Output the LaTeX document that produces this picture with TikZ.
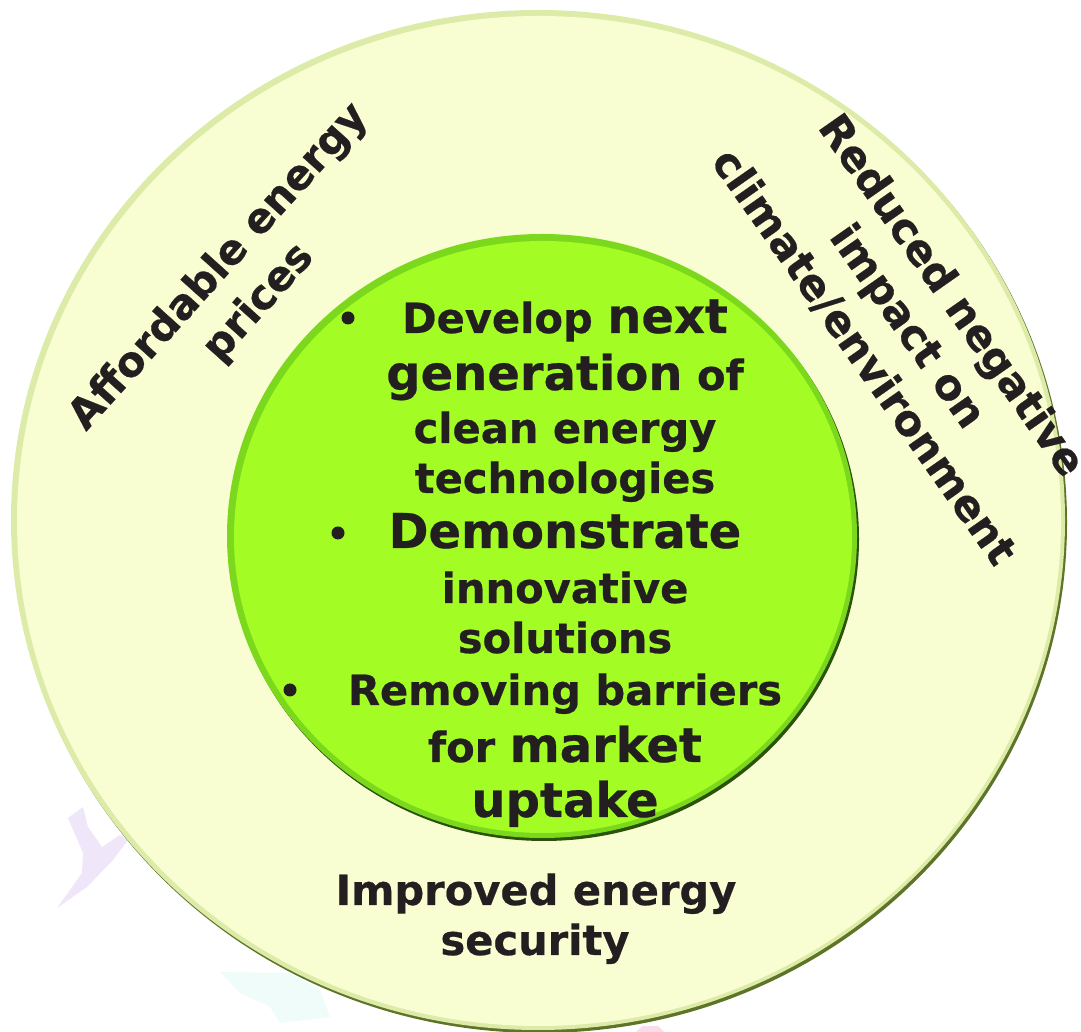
\documentclass[tikz,border=0pt]{standalone}
\usepackage{fontspec}
\setmainfont{DejaVu Sans}
\newfontfamily\heavyfont{DejaVu Sans Bold}[FakeBold=0.5]
\definecolor{ink}{HTML}{231F20}
\definecolor{paleyel}{HTML}{F8FDD2}
\definecolor{palerim}{HTML}{DDEBA8}
\definecolor{paleshadow}{HTML}{5E7428}
\definecolor{lime}{HTML}{A3FC24}
\definecolor{limerim}{HTML}{7CD81C}
\definecolor{limeshadow}{HTML}{2A5208}
\definecolor{wmpurple}{HTML}{EFE6FA}
\definecolor{wmcyan}{HTML}{F0FCFA}
\definecolor{wmpink}{HTML}{F9DDEA}
\newcommand\fsS{\fontsize{20.8}{26}\selectfont}
\newcommand\fsL{\fontsize{24}{28}\selectfont}
\begin{document}
\begin{tikzpicture}[x=0.5pt,y=0.5pt,
  line/.style={font=\heavyfont\fsS, text=ink, inner sep=0pt, anchor=base},
  outertxt/.style={font=\heavyfont\fontsize{21.2}{26.8}\selectfont, text=ink, inner sep=0pt, align=center},
  dot/.style={circle, fill=ink, draw=none, minimum size=6.5pt, inner sep=0pt}]
\useasboundingbox (0,0) rectangle (1081,1032);
% faint watermark shapes
\fill[wmpurple] (68,214) -- (83,225) -- (88,205) -- (102,185) -- (120,197) -- (128,192) -- (113,172) -- (87,145) -- (57,124) -- (82,159) -- (83,179) -- cycle;
\fill[wmcyan] (220,60) -- (290,59) -- (320,42) -- (330,15) -- (280,9) -- (270,25) -- (240,39) -- cycle;
\fill[wmpink] (636,0) -- (664,0) -- (658,6) -- (642,6) -- cycle;
% outer disc
\fill[paleshadow] (540,509) ellipse [x radius=527, y radius=510];
\fill[palerim] (538,512) ellipse [x radius=527, y radius=510];
\fill[paleyel] (539,511) ellipse [x radius=522, y radius=505];
% inner disc
\fill[limeshadow] (544,493) ellipse [x radius=315, y radius=302];
\fill[limerim] (542,496) ellipse [x radius=315, y radius=302];
\fill[lime] (543,495) ellipse [x radius=309, y radius=296];
% inner text
\node[line] (l1) at (565,699) {Develop {\fsL next}};
\node[line] (l2) at (565,642) {{\fsL generation} of};
\node[line] (l3) at (565,589) {clean energy};
\node[line] (l4) at (565,539) {technologies};
\node[line] (l5) at (565,484) {{\fsL Demonstrate}};
\node[line] (l6) at (565,429) {innovative};
\node[line] (l7) at (565,379) {solutions};
\node[line] (l8) at (565,327) {Removing barriers};
\node[line] (l9) at (565,270) {for {\fsL market}};
\node[line] (l10) at (565,215) {{\fsL uptake}};
\node[dot] (b1) at (348,714) {};
\node[dot] (b2) at (338,499) {};
\node[dot] (b3) at (290,342) {};
% outer text
\node[line] (imp1) at (536,127) {Improved energy};
\node[line] (imp2) at (535,77) {security};
\node[outertxt, font=\heavyfont\fontsize{20.8}{26.8}\selectfont, rotate=48] (afford) at (239,747) {Affordable energy\\prices};
\node[outertxt, rotate=-55] (reduce) at (908,706) {Reduced negative\\impact on\\climate/environment};
\end{tikzpicture}
\end{document}
